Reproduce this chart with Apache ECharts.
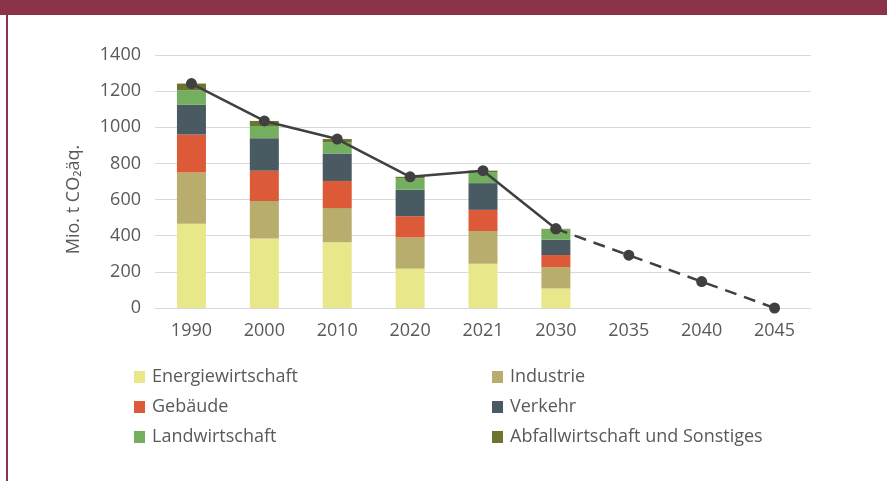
<!DOCTYPE html>
<html>
<head>
<meta charset="utf-8">
<script src="https://cdn.jsdelivr.net/npm/echarts@6/dist/echarts.min.js"></script>
<style>html,body{margin:0;padding:0;background:#fff;}#c{width:887px;height:481px;}</style>
</head>
<body>
<div id="c"></div>
<script>
var categories = ['1990','2000','2010','2020','2021','2030','2035','2040','2045'];
var energie = [466, 385, 364, 218, 245, 108, null, null, null];
var industrie = [284, 207, 189, 172, 181, 118, null, null, null];
var gebaeude = [210, 167, 150, 118, 117, 67, null, null, null];
var verkehr = [164, 181, 152, 147, 148, 85, null, null, null];
var landwirtschaft = [80, 67, 63, 62, 61, 56, null, null, null];
var abfall = [38, 28, 17, 9, 8, 4, null, null, null];
var totalActual = [1242, 1035, 935, 726, 760, 438, null, null, null];
var totalTarget = [null, null, null, null, null, 438, 292, 146, 0];
var seriesNames = ['Energiewirtschaft','Industrie','Gebäude','Verkehr','Landwirtschaft','Abfallwirtschaft und Sonstiges'];
var yTicks = {min: 0, max: 1400, interval: 200};

var colors = ['#E8E88A','#B8AD6C','#DD5A38','#495A63','#74AF60','#6E7430'];
var values = [energie, industrie, gebaeude, verkehr, landwirtschaft, abfall];
var font = 'Open Sans';
var txt = '#595959';

var barSeries = seriesNames.map(function(n, i){
  return {name: n, type: 'bar', stack: 'total', data: values[i], barWidth: 29,
    itemStyle: {color: colors[i]}, z: 2};
});

var chart = echarts.init(document.getElementById('c'), null, {renderer: 'canvas'});
chart.setOption({
  animation: false,
  backgroundColor: '#fff',
  textStyle: {fontFamily: font},
  graphic: [
    {type: 'rect', shape: {x: 0, y: 0, width: 887, height: 15}, style: {fill: '#8B3449'}},
    {type: 'rect', shape: {x: 6, y: 0, width: 2, height: 481}, style: {fill: '#8B3449'}}
  ],
  grid: {left: 155, right: 76, top: 55, bottom: 173},
  legend: [
    {orient: 'vertical', left: 129, top: 363, itemWidth: 11, itemHeight: 12, itemGap: 12,
     icon: 'rect', data: [seriesNames[0], seriesNames[2], seriesNames[4]],
     textStyle: {color: txt, fontSize: 18, fontFamily: font, padding: [0,0,0,2]}},
    {orient: 'vertical', left: 487, top: 363, itemWidth: 11, itemHeight: 12, itemGap: 12,
     icon: 'rect', data: [seriesNames[1], seriesNames[3], seriesNames[5]],
     textStyle: {color: txt, fontSize: 18, fontFamily: font, padding: [0,0,0,2]}}
  ],
  xAxis: {
    type: 'category', data: categories,
    axisLine: {lineStyle: {color: '#d9d9d9', width: 1}},
    axisTick: {show: false},
    axisLabel: {color: txt, fontSize: 18, margin: 14, fontFamily: font}
  },
  yAxis: {
    type: 'value', min: yTicks.min, max: yTicks.max, interval: yTicks.interval,
    name: 'Mio. t CO\u2082äq.', nameLocation: 'middle', nameGap: 72, nameRotate: 90,
    nameTextStyle: {color: txt, fontSize: 18, fontFamily: font, padding: [0, 36, 0, 0]},
    axisLine: {show: false}, axisTick: {show: false},
    axisLabel: {color: txt, fontSize: 18, margin: 14, fontFamily: font,
      formatter: function(v){ return String(v); }},
    splitLine: {lineStyle: {color: '#d9d9d9', width: 1}}
  },
  series: barSeries.concat([
    {name: 'Gesamt', type: 'line', data: totalActual, z: 5, symbol: 'circle', symbolSize: 11,
     itemStyle: {color: '#404040'}, lineStyle: {color: '#404040', width: 2.5}, connectNulls: false},
    {name: 'Ziel', type: 'line', data: totalTarget, z: 5, symbol: 'circle', symbolSize: 11,
     itemStyle: {color: '#404040'}, lineStyle: {color: '#404040', width: 2.5, type: [12, 8]}}
  ])
});
</script>
</body>
</html>
